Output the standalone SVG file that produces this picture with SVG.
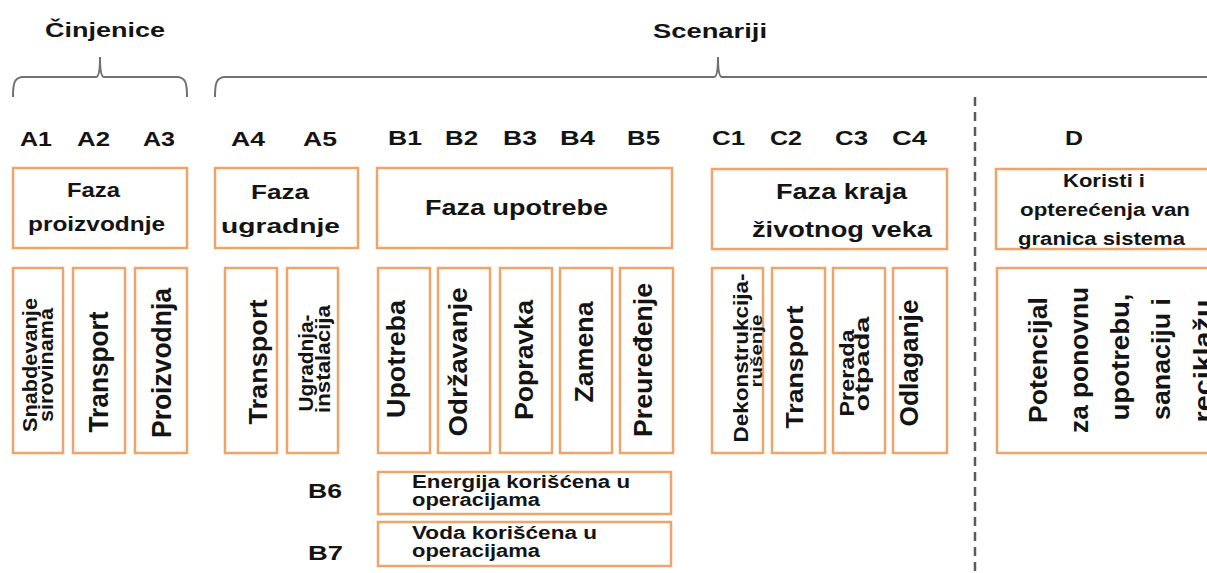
<svg xmlns="http://www.w3.org/2000/svg" width="1207" height="573" viewBox="0 0 1207 573">
<style>
.bx{fill:#fff;stroke:#EDA56B;stroke-width:2.5}
.t{font-family:"Liberation Sans",Arial,sans-serif;font-weight:bold;fill:#141414}
.c{text-anchor:middle}
.br{fill:none;stroke:#707070;stroke-width:2}
.dash{fill:none;stroke:#5a5a5a;stroke-width:2.5;stroke-dasharray:9 6}
</style>
<rect width="1207" height="573" fill="#fff"/>
<g id="connectors">
<path class="br" d="M13,97 C13,84 14,78 22,77 L96,77 C99,77 100,70 100,57 C100,70 101,77 104,77 L178,77 C186,78 187,84 187,97"/>
<path class="br" d="M215,97 C215,84 216,78 224,77 L714,77 C717,77 718,70 718,57 C718,70 719,77 722,77 L1210,77"/>
<line class="dash" x1="975" y1="97" x2="975" y2="573"/>
</g>
<g id="headers">
<text class="t c" font-size="21" x="105" y="37" textLength="120" lengthAdjust="spacingAndGlyphs">Činjenice</text>
<text class="t c" font-size="21" x="710" y="38" textLength="114" lengthAdjust="spacingAndGlyphs">Scenariji</text>
</g>
<g id="codes" font-size="20">
<text class="t c" x="36" y="146" textLength="32" lengthAdjust="spacingAndGlyphs">A1</text>
<text class="t c" x="93.5" y="146" textLength="33" lengthAdjust="spacingAndGlyphs">A2</text>
<text class="t c" x="159" y="146" textLength="32" lengthAdjust="spacingAndGlyphs">A3</text>
<text class="t c" x="248" y="146" textLength="34" lengthAdjust="spacingAndGlyphs">A4</text>
<text class="t c" x="320" y="146" textLength="34" lengthAdjust="spacingAndGlyphs">A5</text>
<text class="t c" x="405" y="145" textLength="34" lengthAdjust="spacingAndGlyphs">B1</text>
<text class="t c" x="461.5" y="145" textLength="33" lengthAdjust="spacingAndGlyphs">B2</text>
<text class="t c" x="520" y="145" textLength="34" lengthAdjust="spacingAndGlyphs">B3</text>
<text class="t c" x="577.5" y="145" textLength="35" lengthAdjust="spacingAndGlyphs">B4</text>
<text class="t c" x="643.5" y="145" textLength="33" lengthAdjust="spacingAndGlyphs">B5</text>
<text class="t c" x="728.5" y="145" textLength="33" lengthAdjust="spacingAndGlyphs">C1</text>
<text class="t c" x="786" y="145" textLength="32" lengthAdjust="spacingAndGlyphs">C2</text>
<text class="t c" x="851.5" y="145" textLength="33" lengthAdjust="spacingAndGlyphs">C3</text>
<text class="t c" x="909.5" y="145" textLength="35" lengthAdjust="spacingAndGlyphs">C4</text>
<text class="t c" x="1074" y="145" textLength="18" lengthAdjust="spacingAndGlyphs">D</text>
<text class="t c" x="325" y="498" textLength="34" lengthAdjust="spacingAndGlyphs">B6</text>
<text class="t c" x="325.5" y="560" textLength="35" lengthAdjust="spacingAndGlyphs">B7</text>
</g>
<g id="faza-proizvodnje">
<rect class="bx" x="13" y="168" width="174" height="80"/>
<text class="t c" font-size="20" x="93.5" y="197" textLength="53" lengthAdjust="spacingAndGlyphs">Faza</text>
<text class="t c" font-size="20" x="96.5" y="231" textLength="137" lengthAdjust="spacingAndGlyphs">proizvodnje</text>
</g>
<g id="faza-ugradnje">
<rect class="bx" x="215" y="168" width="143" height="80"/>
<text class="t c" font-size="21" x="280" y="199" textLength="58" lengthAdjust="spacingAndGlyphs">Faza</text>
<text class="t c" font-size="21" x="280.5" y="233" textLength="119" lengthAdjust="spacingAndGlyphs">ugradnje</text>
</g>
<g id="faza-upotrebe">
<rect class="bx" x="377" y="168" width="295" height="80"/>
<text class="t c" font-size="22" x="516.5" y="215" textLength="183" lengthAdjust="spacingAndGlyphs">Faza upotrebe</text>
</g>
<g id="faza-kraja">
<rect class="bx" x="712" y="169" width="235" height="80"/>
<text class="t c" font-size="22" x="841.5" y="199" textLength="131" lengthAdjust="spacingAndGlyphs">Faza kraja</text>
<text class="t c" font-size="22" x="842" y="237" textLength="180" lengthAdjust="spacingAndGlyphs">životnog veka</text>
</g>
<g id="koristi">
<rect class="bx" x="996" y="169" width="260" height="80"/>
<text class="t c" font-size="18" x="1104" y="187" textLength="82" lengthAdjust="spacingAndGlyphs">Koristi i</text>
<text class="t c" font-size="18" x="1105" y="216" textLength="170" lengthAdjust="spacingAndGlyphs">opterećenja van</text>
<text class="t c" font-size="18" x="1101.5" y="245" textLength="167" lengthAdjust="spacingAndGlyphs">granica sistema</text>
</g>
<g id="a1">
<rect class="bx" x="13" y="268" width="50" height="185"/>
<text class="t c" font-size="20" transform="translate(37,365) rotate(-90)" textLength="134" lengthAdjust="spacingAndGlyphs">Snabdevanje</text>
<text class="t c" font-size="20" transform="translate(53,365) rotate(-90)" textLength="114" lengthAdjust="spacingAndGlyphs">sirovinama</text>
</g>
<g id="a2">
<rect class="bx" x="73" y="268" width="52" height="185"/>
<text class="t c" font-size="27" transform="translate(108,372) rotate(-90)" textLength="121" lengthAdjust="spacingAndGlyphs">Transport</text>
</g>
<g id="a3">
<rect class="bx" x="135" y="268" width="52" height="185"/>
<text class="t c" font-size="27" transform="translate(171,363) rotate(-90)" textLength="150" lengthAdjust="spacingAndGlyphs">Proizvodnja</text>
</g>
<g id="a4">
<rect class="bx" x="225" y="268" width="52" height="185"/>
<text class="t c" font-size="26" transform="translate(267,362) rotate(-90)" textLength="125" lengthAdjust="spacingAndGlyphs">Transport</text>
</g>
<g id="a5">
<rect class="bx" x="287" y="268" width="51" height="185"/>
<text class="t c" font-size="20" transform="translate(313,363) rotate(-90)" textLength="97" lengthAdjust="spacingAndGlyphs">Ugradnja-</text>
<text class="t c" font-size="20" transform="translate(330,359) rotate(-90)" textLength="108" lengthAdjust="spacingAndGlyphs">instalacija</text>
</g>
<g id="b1">
<rect class="bx" x="378" y="268" width="52" height="185"/>
<text class="t c" font-size="25" transform="translate(405,359) rotate(-90)" textLength="118" lengthAdjust="spacingAndGlyphs">Upotreba</text>
</g>
<g id="b2">
<rect class="bx" x="438" y="268" width="52" height="185"/>
<text class="t c" font-size="25" transform="translate(467,362) rotate(-90)" textLength="149" lengthAdjust="spacingAndGlyphs">Održavanje</text>
</g>
<g id="b3">
<rect class="bx" x="500" y="268" width="52" height="185"/>
<text class="t c" font-size="25" transform="translate(533,360) rotate(-90)" textLength="120" lengthAdjust="spacingAndGlyphs">Popravka</text>
</g>
<g id="b4">
<rect class="bx" x="560" y="268" width="52" height="185"/>
<text class="t c" font-size="25" transform="translate(593,352) rotate(-90)" textLength="101" lengthAdjust="spacingAndGlyphs">Zamena</text>
</g>
<g id="b5">
<rect class="bx" x="620" y="268" width="53" height="185"/>
<text class="t c" font-size="25" transform="translate(652,360) rotate(-90)" textLength="154" lengthAdjust="spacingAndGlyphs">Preuređenje</text>
</g>
<g id="b6">
<rect class="bx" x="378" y="472" width="293" height="42"/>
<text class="t" font-size="18" x="412" y="488" textLength="218" lengthAdjust="spacingAndGlyphs">Energija korišćena u</text>
<text class="t" font-size="18" x="412" y="506" textLength="128" lengthAdjust="spacingAndGlyphs">operacijama</text>
</g>
<g id="b7">
<rect class="bx" x="378" y="522" width="293" height="44"/>
<text class="t" font-size="18" x="412" y="539" textLength="185" lengthAdjust="spacingAndGlyphs">Voda korišćena u</text>
<text class="t" font-size="18" x="412" y="557" textLength="128" lengthAdjust="spacingAndGlyphs">operacijama</text>
</g>
<g id="c1">
<rect class="bx" x="712" y="268" width="51" height="185"/>
<text class="t c" font-size="20" transform="translate(748,358) rotate(-90)" textLength="169" lengthAdjust="spacingAndGlyphs">Dekonstrukcija-</text>
<text class="t c" font-size="17" transform="translate(762,351) rotate(-90)" textLength="73" lengthAdjust="spacingAndGlyphs">rušenje</text>
</g>
<g id="c2">
<rect class="bx" x="772" y="268" width="53" height="185"/>
<text class="t c" font-size="24" transform="translate(803,367) rotate(-90)" textLength="123" lengthAdjust="spacingAndGlyphs">Transport</text>
</g>
<g id="c3">
<rect class="bx" x="833" y="268" width="52" height="185"/>
<text class="t c" font-size="20" transform="translate(854,373) rotate(-90)" textLength="87" lengthAdjust="spacingAndGlyphs">Prerada</text>
<text class="t c" font-size="20" transform="translate(869,364) rotate(-90)" textLength="95" lengthAdjust="spacingAndGlyphs">otpada</text>
</g>
<g id="c4">
<rect class="bx" x="893" y="268" width="54" height="185"/>
<text class="t c" font-size="25" transform="translate(918,363) rotate(-90)" textLength="127" lengthAdjust="spacingAndGlyphs">Odlaganje</text>
</g>
<g id="d">
<rect class="bx" x="997" y="268" width="260" height="185"/>
<text class="t c" font-size="26" transform="translate(1047,360) rotate(-90)" textLength="126" lengthAdjust="spacingAndGlyphs">Potencijal</text>
<text class="t c" font-size="26" transform="translate(1088,360) rotate(-90)" textLength="146" lengthAdjust="spacingAndGlyphs">za ponovnu</text>
<text class="t c" font-size="26" transform="translate(1129,357) rotate(-90)" textLength="127" lengthAdjust="spacingAndGlyphs">upotrebu,</text>
<text class="t c" font-size="26" transform="translate(1170,359) rotate(-90)" textLength="122" lengthAdjust="spacingAndGlyphs">sanaciju i</text>
<text class="t c" font-size="26" transform="translate(1212,361) rotate(-90)" textLength="123" lengthAdjust="spacingAndGlyphs">reciklažu</text>
</g>
</svg>
